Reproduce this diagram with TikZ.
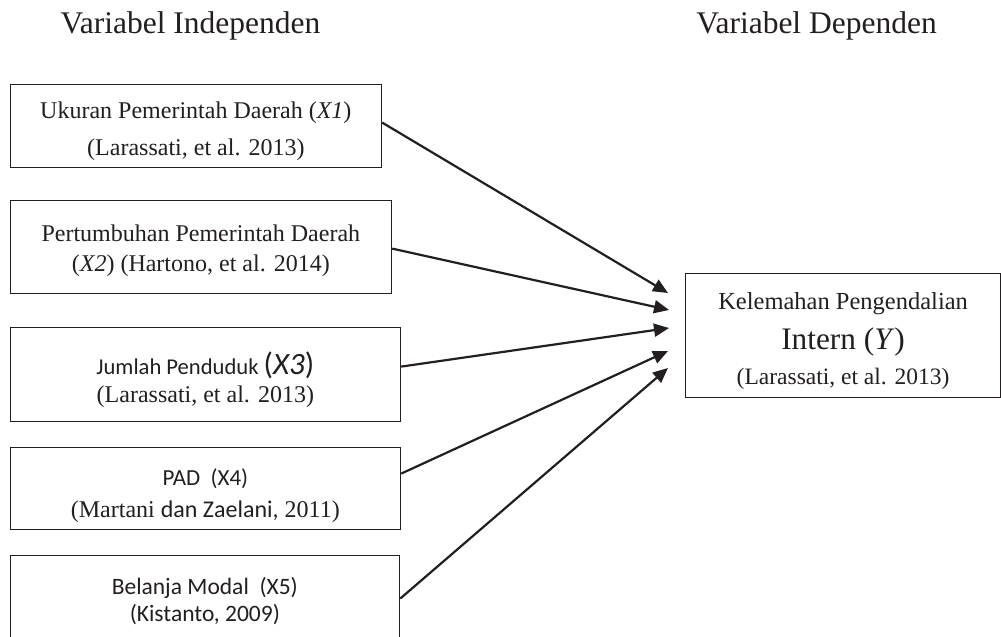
\documentclass[tikz,border=0pt]{standalone}
\usepackage{fontspec}
\setmainfont{Liberation Serif}
\newfontfamily\calib{Carlito}
\usetikzlibrary{arrows.meta}
\definecolor{ink}{RGB}{35,31,32}
\tikzset{
  vbox/.style={draw=ink, line width=1.2pt, inner sep=0pt, align=center, text=ink, anchor=north west},
  arr/.style={draw=ink, line width=2.2pt, -{Triangle[length=15pt,width=13pt]}},
  title/.style={text=ink, font=\fontsize{31.5}{31.5}\selectfont, anchor=base}
}
\begin{document}
\begin{tikzpicture}[x=1pt,y=-1pt]
\useasboundingbox (0,0) rectangle (1001,637);
\clip (0,0) rectangle (1001,637);
\fill[white] (0,0) rectangle (1001,637);

\node[title] (ti) at (190.5,33) {Variabel Independen};
\node[title] (td) at (816.5,33) {Variabel Dependen};

\node[vbox, minimum width=371.5pt, minimum height=83pt, text height=63.6pt, font=\fontsize{24}{37}\selectfont] (b1) at (9.5,84)
  {Ukuran Pemerintah Daerah (\textit{X1})\\(Larassati, et al. 2013)};
\node[vbox, minimum width=381.5pt, minimum height=93pt, text height=54.4pt, font=\fontsize{24}{30}\selectfont] (b2) at (9.5,200)
  {Pertumbuhan Pemerintah Daerah\\(\textit{X2}) (Hartono, et al. 2014)};
\node[vbox, minimum width=390.5pt, minimum height=94pt, text height=61pt, font=\fontsize{24}{28}\selectfont] (b3) at (9.5,327)
  {{\calib\fontsize{22.6}{28}\selectfont Jumlah Penduduk }{\calib\fontsize{31}{28}\selectfont(\textit{X3})}\\(Larassati, et al. 2013)};
\node[vbox, minimum width=390.5pt, minimum height=82pt, text height=61.9pt, font=\fontsize{24}{32}\selectfont] (b4) at (9.5,447)
  {{\calib\fontsize{23}{32}\selectfont PAD~~(X4)}\\(Martani {\calib dan Zaelani,} 2011)};
\node[vbox, minimum width=389.5pt, minimum height=90pt, font=\calib\fontsize{23.5}{27}\selectfont] (b5) at (9.5,555)
  {Belanja Modal~~(X5)\\(Kistanto, 2009)};

\node[vbox, minimum width=315pt, minimum height=124pt, text height=103.7pt, font=\fontsize{24.5}{37.5}\selectfont] (y) at (685,273)
  {Kelemahan Pengendalian\\[2.5pt]{\fontsize{31.3}{37.5}\selectfont Intern (\textit{Y})}\\[-2.5pt]{\fontsize{23.5}{37.5}\selectfont (Larassati, et al. 2013)}};

\coordinate (t1) at (668,293);
\coordinate (t2) at (669,310);
\coordinate (t3) at (669,328);
\coordinate (t4) at (668,351);
\coordinate (t5) at (668,368);

\draw[arr] ([yshift=3.5pt]b1.east) -- (t1);
\draw[arr] ([yshift=-1.5pt]b2.east) -- (t2);
\draw[arr] ([yshift=8pt]b3.east) -- (t3);
\draw[arr] ([yshift=15pt]b4.east) -- (t4);
\draw[arr] ([yshift=2pt]b5.east) -- (t5);
\end{tikzpicture}
\end{document}
